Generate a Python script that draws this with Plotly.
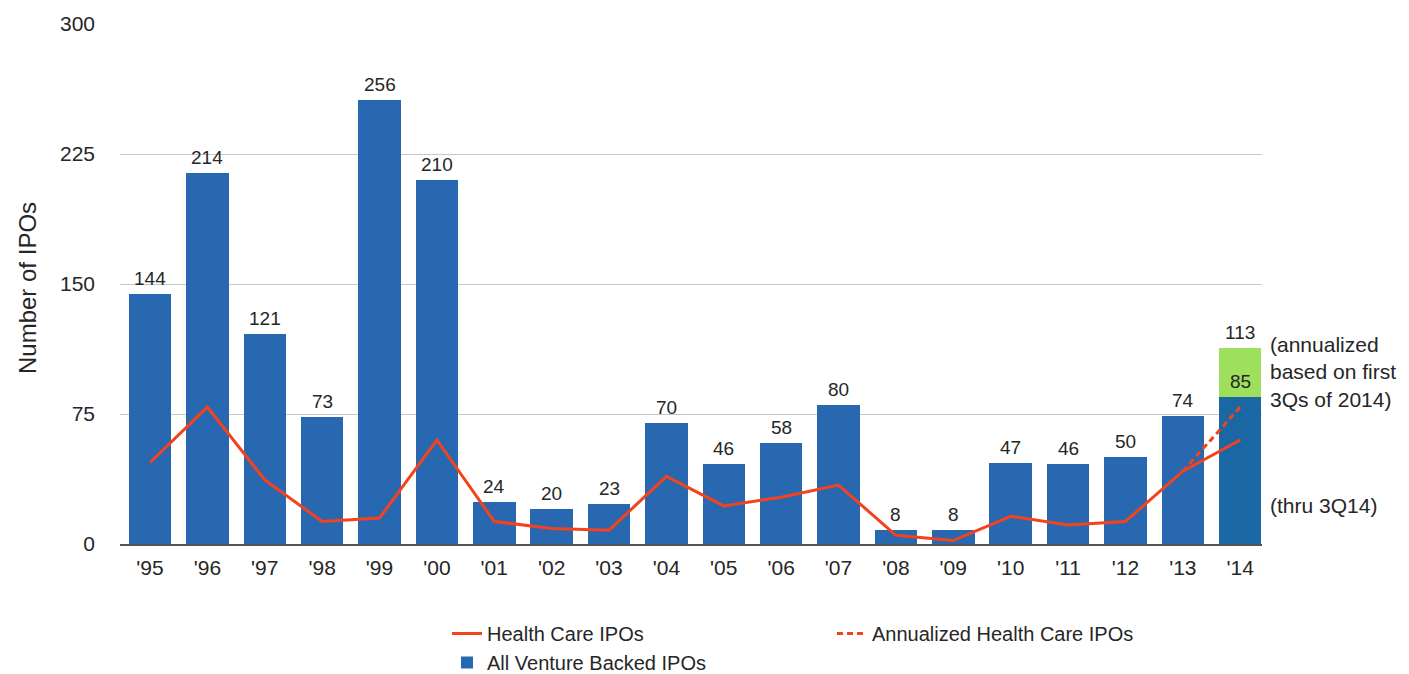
import plotly.graph_objects as go

years = ["'95", "'96", "'97", "'98", "'99", "'00", "'01", "'02", "'03", "'04",
         "'05", "'06", "'07", "'08", "'09", "'10", "'11", "'12", "'13", "'14"]
all_vc_ipos = [144, 214, 121, 73, 256, 210, 24, 20, 23, 70,
               46, 58, 80, 8, 8, 47, 46, 50, 74, 85]
annualized_total_2014 = 113
health_care_ipos = [47, 79, 37, 13, 15, 60, 13, 9, 8, 39,
                    22, 27, 34, 5, 2, 16, 11, 13, 42, 60]
annualized_hc_years = ["'13", "'14"]
annualized_hc_values = [42, 79]
y_ticks = [0, 75, 150, 225, 300]

BLUE = "#2768b1"
BLUE14 = "#1b67a3"
GREEN = "#9ee05b"
RED = "#f4421d"
FONT = "Liberation Sans"
TXT = "#262626"

# the page body adds an 8px offset; the figure is sized to fill the rest of the window
OFF = 8
W, H = 1409 - OFF, 674 - OFF
L, R, T, B = 120 - OFF, 147, 24 - OFF, 130
PW, PH = W - L - R, H - T - B

bar_colors = [BLUE] * (len(years) - 1) + [BLUE14]
green_vals = [0] * (len(years) - 1) + [annualized_total_2014 - all_vc_ipos[-1]]

fig = go.Figure()
fig.add_trace(go.Bar(x=years, y=all_vc_ipos, marker=dict(color=bar_colors, line=dict(width=0)),
                     name="All Venture Backed IPOs", legend="legend", legendrank=2,
                     hoverinfo="skip"))
fig.add_trace(go.Bar(x=years, y=green_vals, marker=dict(color=GREEN, line=dict(width=0)),
                     showlegend=False, hoverinfo="skip"))
fig.add_trace(go.Scatter(x=years, y=health_care_ipos, mode="lines",
                         line=dict(color=RED, width=3), name="Health Care IPOs",
                         legend="legend", legendrank=1))
fig.add_trace(go.Scatter(x=annualized_hc_years, y=annualized_hc_values, mode="lines",
                         line=dict(color=RED, width=3, dash="6px,4px"),
                         name="Annualized Health Care IPOs", legend="legend2"))

# helpers converting page pixel positions (as in the reference) to paper fractions
def px_x(px):
    return (px - OFF - L) / PW

def px_y(py):
    return (T + PH - (py - OFF)) / PH

lab_font = dict(family=FONT, size=19, color=TXT)
annotations = []
for yr, v in zip(years, all_vc_ipos):
    annotations.append(dict(x=yr, y=v, xref="x", yref="y", text=str(v), showarrow=False,
                            yanchor="bottom", yshift=3, font=lab_font))
annotations.append(dict(x=years[-1], y=annualized_total_2014, xref="x", yref="y",
                        text=str(annualized_total_2014), showarrow=False, yanchor="bottom",
                        yshift=3, font=lab_font))
annotations.append(dict(x=px_x(1268), y=px_y(372), xref="paper", yref="paper",
                        text="(annualized<br>based on first<br>3Qs of 2014)", showarrow=False,
                        xanchor="left", yanchor="middle", align="left",
                        font=dict(family=FONT, size=21, color=TXT)))
annotations.append(dict(x=px_x(1268), y=px_y(505), xref="paper", yref="paper",
                        text="(thru 3Q14)", showarrow=False, xanchor="left", yanchor="middle",
                        align="left", font=dict(family=FONT, size=21, color=TXT)))
annotations.append(dict(x=px_x(27), y=px_y(288), xref="paper", yref="paper",
                        text="Number of IPOs", showarrow=False, textangle=-90,
                        xanchor="center", yanchor="middle",
                        font=dict(family=FONT, size=24, color=TXT)))

leg_font = dict(family=FONT, size=20, color=TXT)
fig.update_layout(
    width=W, height=H,
    margin=dict(l=L, r=R, t=T, b=B, autoexpand=False),
    plot_bgcolor="white", paper_bgcolor="white",
    barmode="stack", bargap=0.26,
    font=dict(family=FONT, size=20, color=TXT),
    annotations=annotations,
    legend=dict(x=px_x(447), y=px_y(614), xanchor="left", yanchor="top",
                orientation="v", traceorder="normal", font=leg_font,
                bgcolor="rgba(0,0,0,0)", tracegroupgap=0, itemwidth=30),
    legend2=dict(x=px_x(832), y=px_y(614), xanchor="left", yanchor="top",
                 orientation="v", font=leg_font,
                 bgcolor="rgba(0,0,0,0)", itemwidth=30),
)
fig.update_xaxes(type="category", range=[-0.523, 19.38], showgrid=False, automargin=False,
                 showline=True, linecolor="#555555", linewidth=2,
                 ticks="", ticklabelstandoff=4,
                 tickfont=dict(family=FONT, size=21, color=TXT))
fig.update_yaxes(range=[0, 300], tickvals=y_ticks, showgrid=True, gridcolor="#c8c8c8",
                 gridwidth=1, zeroline=False, showline=False, ticks="", automargin=False,
                 ticklabelstandoff=24, tickfont=dict(family=FONT, size=21, color=TXT))

fig.write_html("out.html")
